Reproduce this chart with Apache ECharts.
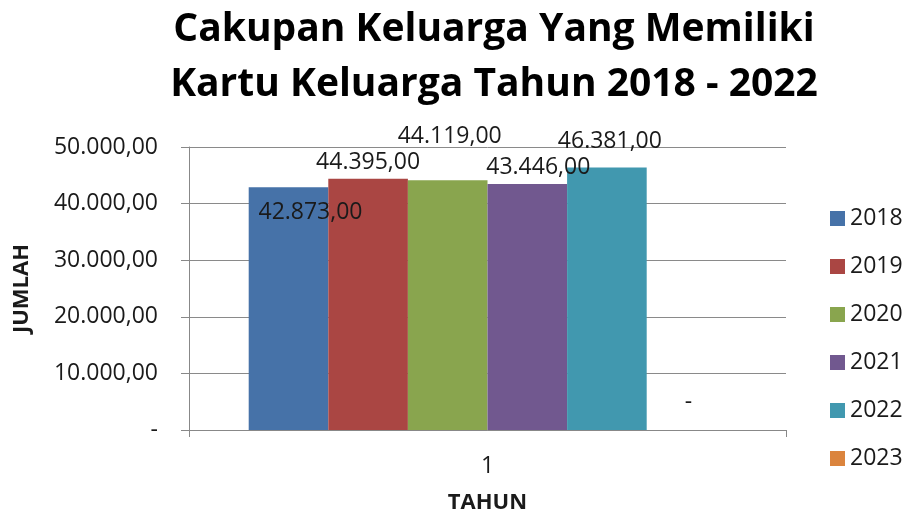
<!DOCTYPE html>
<html>
<head>
<meta charset="utf-8">
<script src="https://cdn.jsdelivr.net/npm/echarts@6/dist/echarts.min.js"></script>
<style>
html,body{margin:0;padding:0;background:#fff;}
#chart{width:909px;height:515px;}
</style>
</head>
<body>
<div id="chart"></div>
<script>
var categories = ['1'];
var years = ['2018', '2019', '2020', '2021', '2022', '2023'];
var values = [42873, 44395, 44119, 43446, 46381, 0];
var yTicks = [0, 10000, 20000, 30000, 40000, 50000];

var colors = ['#4672A8', '#AA4643', '#89A54E', '#71588F', '#4198AF', '#DB843D'];
var labelOffsets = [[22, 42], [0, 0], [2, -27], [11, 0], [3, -10], [2, -11]];

function fmt(v) {
  if (v === 0) return '-';
  var parts = v.toFixed(2).split('.');
  var intPart = parts[0].replace(/\B(?=(\d{3})+(?!\d))/g, '.');
  return intPart + ',' + parts[1];
}

var font = '"Open Sans", sans-serif';

var series = years.map(function (y, i) {
  return {
    name: y,
    type: 'bar',
    data: [values[i]],
    itemStyle: { color: colors[i] },
    barGap: 0,
    barCategoryGap: '20%',
    label: {
      show: true,
      position: 'top',
      distance: 5,
      offset: labelOffsets[i],
      fontFamily: font,
      fontSize: 23,
      color: '#1a1a1a',
      formatter: function (p) { return fmt(p.value); }
    }
  };
});

var chart = echarts.init(document.getElementById('chart'));
chart.setOption({
  animation: false,
  backgroundColor: '#fff',
  title: {
    text: 'Cakupan Keluarga Yang Memiliki\nKartu Keluarga Tahun 2018 - 2022',
    left: 489,
    textAlign: 'center',
    top: -3,
    textStyle: {
      fontFamily: font,
      fontWeight: 'bold',
      fontSize: 39,
      lineHeight: 55,
      color: '#000'
    }
  },
  legend: {
    orient: 'vertical',
    left: 825,
    top: 202,
    itemWidth: 15,
    itemHeight: 15,
    itemGap: 25,
    icon: 'rect',
    textStyle: { fontFamily: font, fontSize: 23, color: '#1a1a1a' },
    data: years
  },
  grid: { left: 189, right: 123, top: 147, bottom: 85, containLabel: false, outerBoundsMode: 'none' },
  xAxis: {
    type: 'category',
    data: categories,
    name: 'TAHUN',
    nameLocation: 'middle',
    nameGap: 62,
    nameTextStyle: { fontFamily: font, fontWeight: 'bold', fontSize: 22, color: '#1a1a1a' },
    axisLine: { lineStyle: { color: '#888' } },
    axisTick: { show: true, length: 7, lineStyle: { color: '#888' } },
    axisLabel: { margin: 25, fontFamily: font, fontSize: 23, color: '#1a1a1a' }
  },
  yAxis: {
    type: 'value',
    min: 0,
    max: 50000,
    interval: 10000,
    name: 'JUMLAH',
    nameLocation: 'middle',
    nameGap: 156,
    nameRotate: 90,
    nameTextStyle: { fontFamily: font, fontWeight: 'bold', fontSize: 22, color: '#1a1a1a' },
    axisLine: { show: true, lineStyle: { color: '#888' } },
    axisTick: { show: true, length: 8, lineStyle: { color: '#888' } },
    splitLine: { show: true, lineStyle: { color: '#8a8a8a', width: 1 } },
    axisLabel: {
      margin: 31,
      fontFamily: font,
      fontSize: 23,
      color: '#1a1a1a',
      formatter: function (v) { return fmt(v); }
    }
  },
  series: series
});
</script>
</body>
</html>
